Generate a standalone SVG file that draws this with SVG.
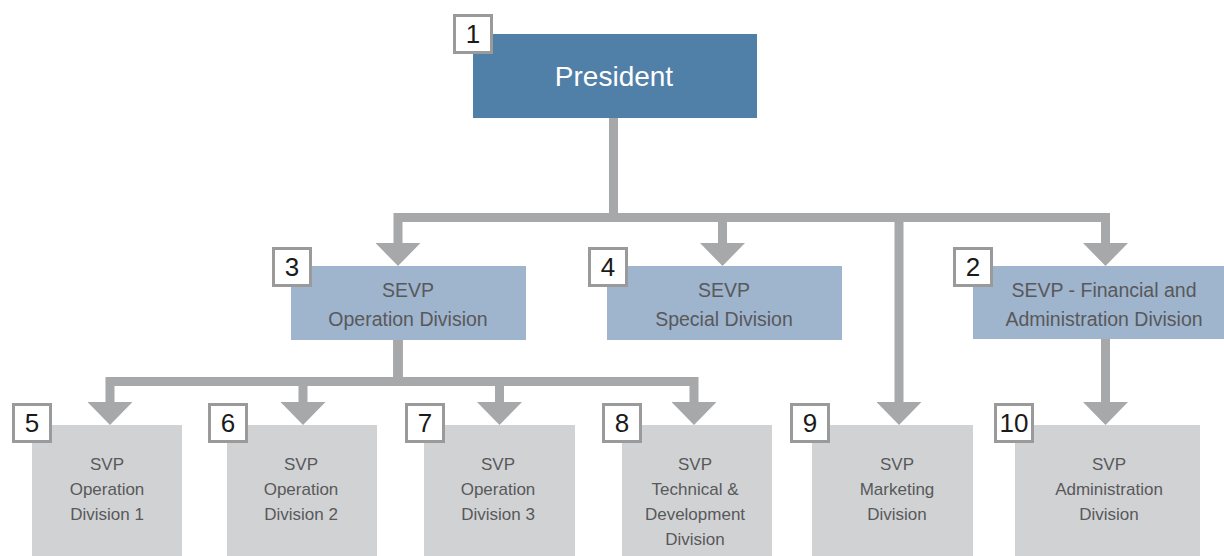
<svg xmlns="http://www.w3.org/2000/svg" width="1224" height="556" viewBox="0 0 1224 556">
<style>
.top{fill:#5080a8}
.mid{fill:#9fb4cd}
.low{fill:#d1d2d4}
.badge{fill:#fff;stroke:#9a9a9a;stroke-width:3}
.num{font-family:"Liberation Sans",Arial,sans-serif;font-size:26px;fill:#1a1a1a;text-anchor:middle}
.t1{font-family:"Liberation Sans",Arial,sans-serif;font-size:28px;fill:#fff;text-anchor:middle}
.t2{font-family:"Liberation Sans",Arial,sans-serif;font-size:19.5px;fill:#58595b;text-anchor:middle}
.t3{font-family:"Liberation Sans",Arial,sans-serif;font-size:17px;fill:#58595b;text-anchor:middle}
.conn{fill:none;stroke:#a7a8aa;stroke-width:9;stroke-linejoin:miter}
</style>
<defs>
<marker id="arr" markerUnits="userSpaceOnUse" viewBox="0 0 23 45" markerWidth="23" markerHeight="45" refX="0" refY="22.5" orient="auto">
<path d="M0,0 L23,22.5 L0,45 Z" fill="#a7a8aa"/>
</marker>
</defs>
<g id="connectors">
<path class="conn" d="M613.5,118 V217.5 H398 V243" marker-end="url(#arr)"/>
<path class="conn" d="M613.5,118 V217.5 H722.5 V243" marker-end="url(#arr)"/>
<path class="conn" d="M613.5,118 V217.5 H899 V402" marker-end="url(#arr)"/>
<path class="conn" d="M613.5,118 V217.5 H1105.5 V243" marker-end="url(#arr)"/>
<path class="conn" d="M398,340 V381.5 H110 V402" marker-end="url(#arr)"/>
<path class="conn" d="M398,340 V381.5 H303 V402" marker-end="url(#arr)"/>
<path class="conn" d="M398,340 V381.5 H499.5 V402" marker-end="url(#arr)"/>
<path class="conn" d="M398,340 V381.5 H694 V402" marker-end="url(#arr)"/>
<path class="conn" d="M1105.5,339 V402" marker-end="url(#arr)"/>
</g>
<g id="node1">
<rect class="top" x="473" y="34" width="284" height="84"/>
<text class="t1" x="614" y="86">President</text>
<rect class="badge" x="454.5" y="15.5" width="37" height="37"/>
<text class="num" x="473" y="43">1</text>
</g>
<g id="node3">
<rect class="mid" x="291" y="266" width="235" height="74"/>
<text class="t2" x="408" y="297">SEVP</text>
<text class="t2" x="408" y="326">Operation Division</text>
<rect class="badge" x="273.5" y="248.5" width="37" height="37"/>
<text class="num" x="292" y="276">3</text>
</g>
<g id="node4">
<rect class="mid" x="607" y="266" width="235" height="74"/>
<text class="t2" x="724" y="297">SEVP</text>
<text class="t2" x="724" y="326">Special Division</text>
<rect class="badge" x="589.5" y="248.5" width="37" height="37"/>
<text class="num" x="608" y="276">4</text>
</g>
<g id="node2">
<rect class="mid" x="973" y="266" width="251" height="73"/>
<text class="t2" x="1104" y="297">SEVP - Financial and</text>
<text class="t2" x="1104" y="326">Administration Division</text>
<rect class="badge" x="954.5" y="248.5" width="37" height="37"/>
<text class="num" x="973" y="276">2</text>
</g>
<g id="node5">
<rect class="low" x="32" y="425" width="150" height="131"/>
<text class="t3" x="107" y="470">SVP</text>
<text class="t3" x="107" y="495">Operation</text>
<text class="t3" x="107" y="520">Division 1</text>
<rect class="badge" x="13.5" y="404.5" width="37" height="37"/>
<text class="num" x="32" y="432">5</text>
</g>
<g id="node6">
<rect class="low" x="227" y="425" width="150" height="131"/>
<text class="t3" x="301" y="470">SVP</text>
<text class="t3" x="301" y="495">Operation</text>
<text class="t3" x="301" y="520">Division 2</text>
<rect class="badge" x="209.5" y="404.5" width="37" height="37"/>
<text class="num" x="228" y="432">6</text>
</g>
<g id="node7">
<rect class="low" x="424" y="425" width="151" height="131"/>
<text class="t3" x="498" y="470">SVP</text>
<text class="t3" x="498" y="495">Operation</text>
<text class="t3" x="498" y="520">Division 3</text>
<rect class="badge" x="406.5" y="404.5" width="37" height="37"/>
<text class="num" x="425" y="432">7</text>
</g>
<g id="node8">
<rect class="low" x="622" y="425" width="150" height="131"/>
<text class="t3" x="695" y="470">SVP</text>
<text class="t3" x="695" y="495">Technical &amp;</text>
<text class="t3" x="695" y="520">Development</text>
<text class="t3" x="695" y="545">Division</text>
<rect class="badge" x="603.5" y="404.5" width="37" height="37"/>
<text class="num" x="622" y="432">8</text>
</g>
<g id="node9">
<rect class="low" x="812" y="425" width="161" height="131"/>
<text class="t3" x="897" y="470">SVP</text>
<text class="t3" x="897" y="495">Marketing</text>
<text class="t3" x="897" y="520">Division</text>
<rect class="badge" x="791.5" y="404.5" width="37" height="37"/>
<text class="num" x="810" y="432">9</text>
</g>
<g id="node10">
<rect class="low" x="1015" y="425" width="185" height="131"/>
<text class="t3" x="1109" y="470">SVP</text>
<text class="t3" x="1109" y="495">Administration</text>
<text class="t3" x="1109" y="520">Division</text>
<rect class="badge" x="995.5" y="404.5" width="37" height="37"/>
<text class="num" x="1014" y="432">10</text>
</g>
</svg>
